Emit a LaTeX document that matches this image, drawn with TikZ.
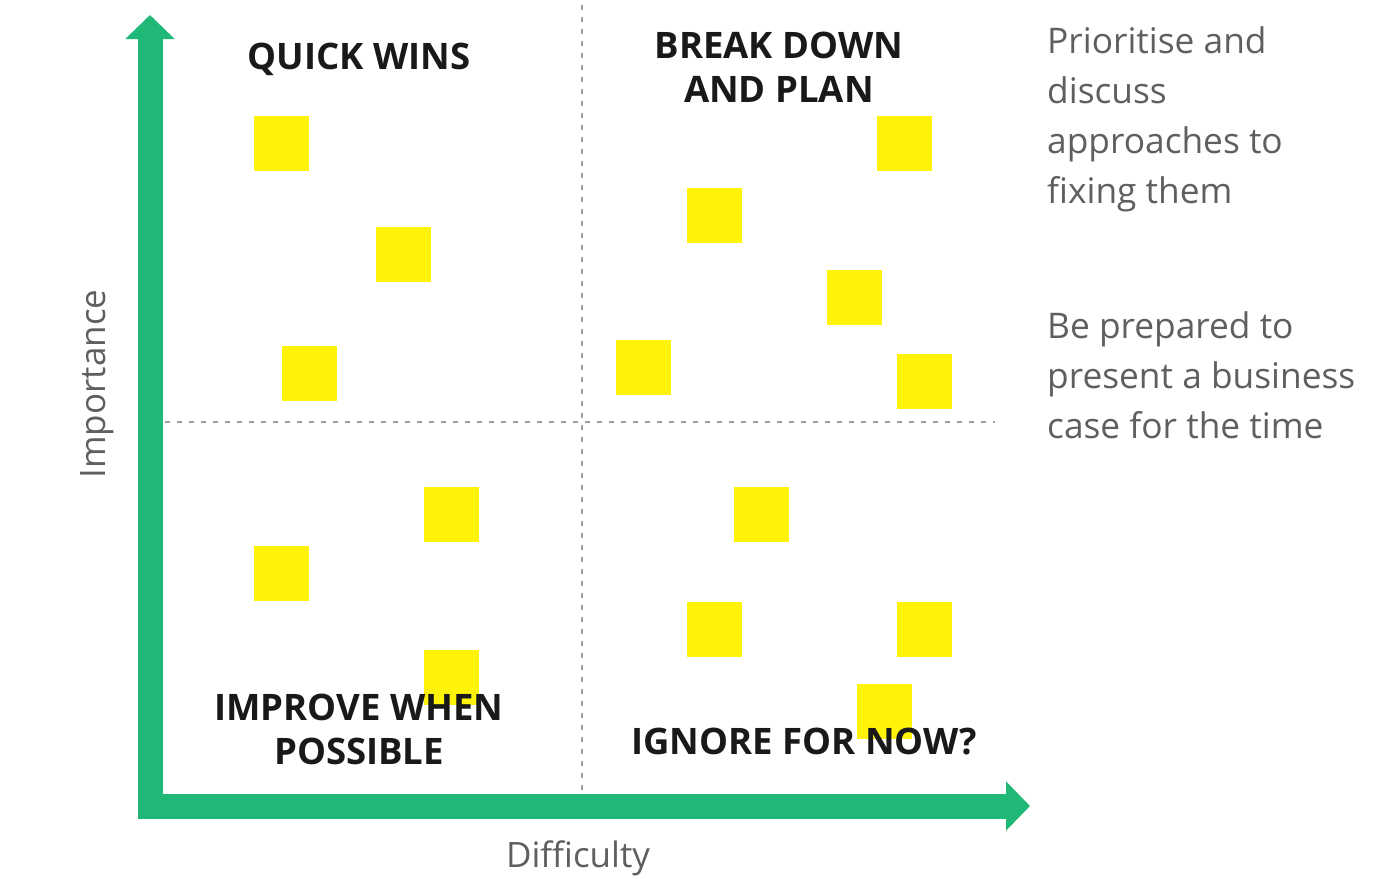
\documentclass[tikz,border=0pt]{standalone}
\usepackage{fontspec}
\setmainfont{Open Sans}
\usepackage{xcolor}
\usepackage{tikz}
\usetikzlibrary{arrows.meta, positioning}

\definecolor{axisgreen}{RGB}{32,184,118}
\definecolor{noteyellow}{RGB}{255,243,10}
\definecolor{sidegray}{RGB}{95,95,95}

\begin{document}
\begin{tikzpicture}[
    x=1pt, y=-1pt,
    axis/.style={draw=axisgreen, line width=25pt, line join=miter,
        {Triangle[width=48pt, length=24pt]}-{Triangle[width=48pt, length=24pt]}},
    divider/.style={draw=gray!75, line width=2.2pt, dash pattern=on 5pt off 7pt},
    note/.style={rectangle, fill=noteyellow, minimum size=55pt, inner sep=0pt},
    quad/.style={font=\fontsize{36.5}{44}\selectfont\bfseries, align=center, text=black!90},
    axlabel/.style={font=\fontsize{35}{40}\selectfont, text=sidegray},
    side/.style={font=\fontsize{35.3}{50}\selectfont, text=sidegray, align=left, anchor=north west, inner sep=0pt}
]
\useasboundingbox (0,0) rectangle (1394,878);

% ==================== DIVIDERS ====================
\coordinate (vtop) at (582,5);
\coordinate (vbot) at (582,800);
\coordinate (hleft) at (165,422);
\coordinate (hright) at (995,422);
\draw[divider] (vtop) -- (vbot);
\draw[divider] (hleft) -- (hright);

% ==================== AXES ====================
\coordinate (ytip) at (150,15);
\coordinate (corner) at (150,806);
\coordinate (xtip) at (1030,806);
\draw[axis] (ytip) -- (corner) -- (xtip);

\node[axlabel, rotate=90] (importance) at (97,384) {Importance};
\node[axlabel] (difficulty) at (578,858) {Difficulty};

% ==================== STICKY NOTES ====================
\foreach \px/\py [count=\i] in {281/143, 403/254, 309/373, 904/143, 714/215,
    854/297, 643/367, 924/381, 451/514, 281/573, 761/514, 714/629, 924/629,
    451/677, 884/711}
    \node[note] (note\i) at (\px,\py) {};

% ==================== QUADRANT LABELS ====================
\node[quad] (quick) at (359,59) {QUICK WINS};
\node[quad] (break) at (779,67) {BREAK DOWN\\AND PLAN};
\node[quad] (improve) at (359,729) {IMPROVE WHEN\\POSSIBLE};
\node[quad] (ignore) at (804,741) {IGNORE FOR NOW?};

% ==================== SIDE NOTES ====================
\node[side] (prioritise) at (1047,26) {Prioritise and\\discuss\\approaches to\\fixing them};
\node[side] (prepared) at (1047,311) {Be prepared to\\present a business\\case for the time};

\end{tikzpicture}
\end{document}
